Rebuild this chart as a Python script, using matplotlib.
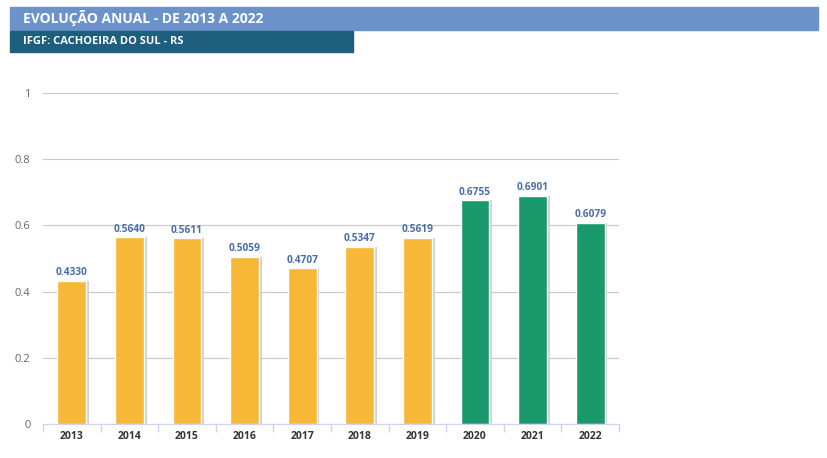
import numpy as np
import matplotlib.pyplot as plt
import matplotlib.patches as patches

# Data
years = ['2013', '2014', '2015', '2016', '2017', '2018', '2019', '2020', '2021', '2022']
values = [0.4330, 0.5640, 0.5611, 0.5059, 0.4707, 0.5347, 0.5619, 0.6755, 0.6901, 0.6079]
bar_colors = ['#f6b836'] * 7 + ['#1a9a6c'] * 3
y_ticks = [0, 0.2, 0.4, 0.6, 0.8, 1]
y_tick_labels = ['0', '0.2', '0.4', '0.6', '0.8', '1']
title = 'EVOLUÇÃO ANUAL - DE 2013 A 2022'
subtitle = 'IFGF: CACHOEIRA DO SUL - RS'

W, H = 827, 458
fig = plt.figure(figsize=(W / 100, H / 100), dpi=100)
plt.rcParams['font.family'] = ['Open Sans', 'DejaVu Sans']

# header bars
fig.patches.append(patches.Rectangle((10 / W, 1 - 30 / H), 808 / W, 23 / H,
                                     transform=fig.transFigure, color='#6b93c9', zorder=0))
fig.patches.append(patches.Rectangle((10 / W, 1 - 52 / H), 343 / W, 21 / H,
                                     transform=fig.transFigure, color='#1e5f7d', zorder=0))
fig.text(23 / W, 1 - 18.5 / H, title, color='white', fontsize=10, fontweight='bold', va='center')
fig.text(23 / W, 1 - 41.5 / H, subtitle, color='white', fontsize=8, fontweight='bold', va='center')

ax = fig.add_axes([43 / W, 34 / H, 576 / W, 331 / H])
x = np.arange(len(years))

# slight shadow behind bars
ax.bar(x + 0.05, values, width=0.5, color='#d0d0d0', zorder=2)
ax.bar(x, values, width=0.5, color=bar_colors, edgecolor='white', linewidth=1, zorder=3)

for xi, v in zip(x, values):
    ax.text(xi, v + 0.008, f'{v:.4f}', ha='center', va='bottom', fontsize=7.3,
            fontweight='bold', color='#4a6ea8', zorder=4)

ax.set_xlim(-0.5, len(years) - 0.5)
ax.set_ylim(0, 1)
ax.set_yticks(y_ticks)
ax.set_yticklabels(y_tick_labels)
ax.set_xticks(x)
ax.set_xticklabels(years)
ax.tick_params(axis='y', length=0, labelsize=8, colors='#666666', pad=9)
ax.tick_params(axis='x', length=0, labelsize=7.5, pad=5)
for lbl in ax.get_xticklabels():
    lbl.set_fontweight('bold')
    lbl.set_color('#333333')

# category boundary ticks
ax.set_xticks(np.arange(-0.5, len(years)), minor=True)
ax.tick_params(axis='x', which='minor', length=6, color='#ccd6eb', width=1)

ax.grid(axis='y', color='#c8c8c8', linewidth=0.8, zorder=0)
ax.set_axisbelow(True)
for s in ['top', 'right', 'left']:
    ax.spines[s].set_visible(False)
ax.spines['bottom'].set_color('#ccd6eb')

fig.savefig('out.png', dpi=100)
